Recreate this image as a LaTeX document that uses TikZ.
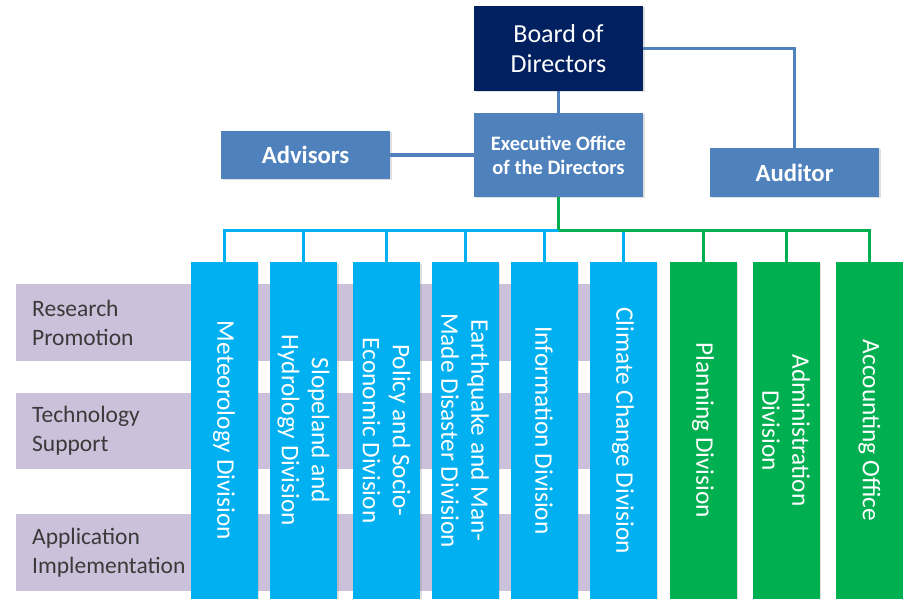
\documentclass[tikz,border=0pt]{standalone}
\usepackage{fontspec}
\setmainfont{Carlito}
\usetikzlibrary{shadows}
\definecolor{navy}{HTML}{002060}
\definecolor{steel}{HTML}{4F81BD}
\definecolor{sky}{HTML}{00B0F0}
\definecolor{grass}{HTML}{00B050}
\definecolor{lilac}{HTML}{CCC1DA}
\definecolor{ink}{HTML}{3A3A3A}

\begin{document}
\begin{tikzpicture}[x=1pt, y=-1pt,
        head/.style = {shape=rectangle, align=center, text=white,
          minimum width=169pt, inner sep=0pt,
          drop shadow={shadow xshift=1.5pt, shadow yshift=-1.5pt, opacity=.25}},
        navybox/.style = {head, fill=navy, minimum height=85pt,
          font=\fontsize{26}{30}\selectfont},
        steelbox/.style = {head, fill=steel, font=\bfseries},
        division/.style = {shape=rectangle, rotate=-90, align=center,
          text=white, minimum width=337pt, minimum height=67pt, inner sep=0pt,
          font=\fontsize{25.3}{30}\selectfont,
          drop shadow={shadow xshift=1.5pt, shadow yshift=-1.5pt, opacity=.25}},
        skybox/.style = {division, fill=sky},
        grassbox/.style = {division, fill=grass},
        band/.style = {shape=rectangle, fill=lilac, anchor=west,
          minimum width=641pt, minimum height=77pt, inner xsep=16pt,
          text width=609pt, align=left, text=ink,
          font=\fontsize{23.5}{29}\selectfont},
        steelline/.style = {draw=steel, line width=3.2pt},
        skyline/.style = {draw=sky, line width=3pt},
        grassline/.style = {draw=grass, line width=3pt}]
        \useasboundingbox (0,0) rectangle (903,599);

        % rows behind the divisions
        \node[band] (research) at (16,322.5) {Research\\Promotion};
        \node[band, minimum height=76pt] (technology) at (16,431) {Technology\\Support};
        \node[band] (application) at (16,552.5) {Application\\Implementation};

        % top of the chart
        \node[navybox] (board) at (558.5,48.5) {Board of\\Directors};
        \node[steelbox, minimum height=84pt,
          font=\bfseries\fontsize{20.5}{24}\selectfont] (office) at (558.5,155)
          {Executive Office\\of the Directors};
        \node[steelbox, minimum height=48pt,
          font=\bfseries\fontsize{24.7}{29}\selectfont] (advisors) at (305.5,155) {Advisors};
        \node[steelbox, minimum height=49pt,
          font=\bfseries\fontsize{24.7}{29}\selectfont] (auditor) at (794.5,172.5) {Auditor};

        % divisions
        \node[skybox] (meteorology) at (224,430.5) {Meteorology Division};
        \node[skybox] (slopeland) at (303.5,430.5) {Slopeland and\\Hydrology Division};
        \node[skybox] (policy) at (386.5,430.5) {Policy and Socio-\\Economic Division};
        \node[skybox] (earthquake) at (465,430.5) {Earthquake and Man-\\Made Disaster Division};
        \node[skybox] (information) at (544,430.5) {Information Division};
        \node[skybox] (climate) at (623,430.5) {Climate Change Division};
        \node[grassbox] (planning) at (703,430.5) {Planning Division};
        \node[grassbox] (administration) at (786,430.5) {Administration\\Division};
        \node[grassbox] (accounting) at (869.5,430.5) {Accounting Office};

        % connectors
        \draw[steelline] (board.south) -- (office.north);
        \draw[steelline] (advisors.east) -- (office.west);
        \draw[steelline] (board.east) -| (auditor.north);
        \coordinate (bus) at (558.5,230);
        \draw[skyline] (bus) -| (meteorology.west);
        \draw[skyline] (bus) -| (slopeland.west);
        \draw[skyline] (bus) -| (policy.west);
        \draw[skyline] (bus) -| (earthquake.west);
        \draw[skyline] (bus) -| (information.west);
        \draw[skyline] (bus) -| (climate.west);
        \draw[grassline] (office.south) -- (bus);
        \draw[grassline] (bus) -| (planning.west);
        \draw[grassline] (bus) -| (administration.west);
        \draw[grassline] (bus) -| (accounting.west);
\end{tikzpicture}
\end{document}
